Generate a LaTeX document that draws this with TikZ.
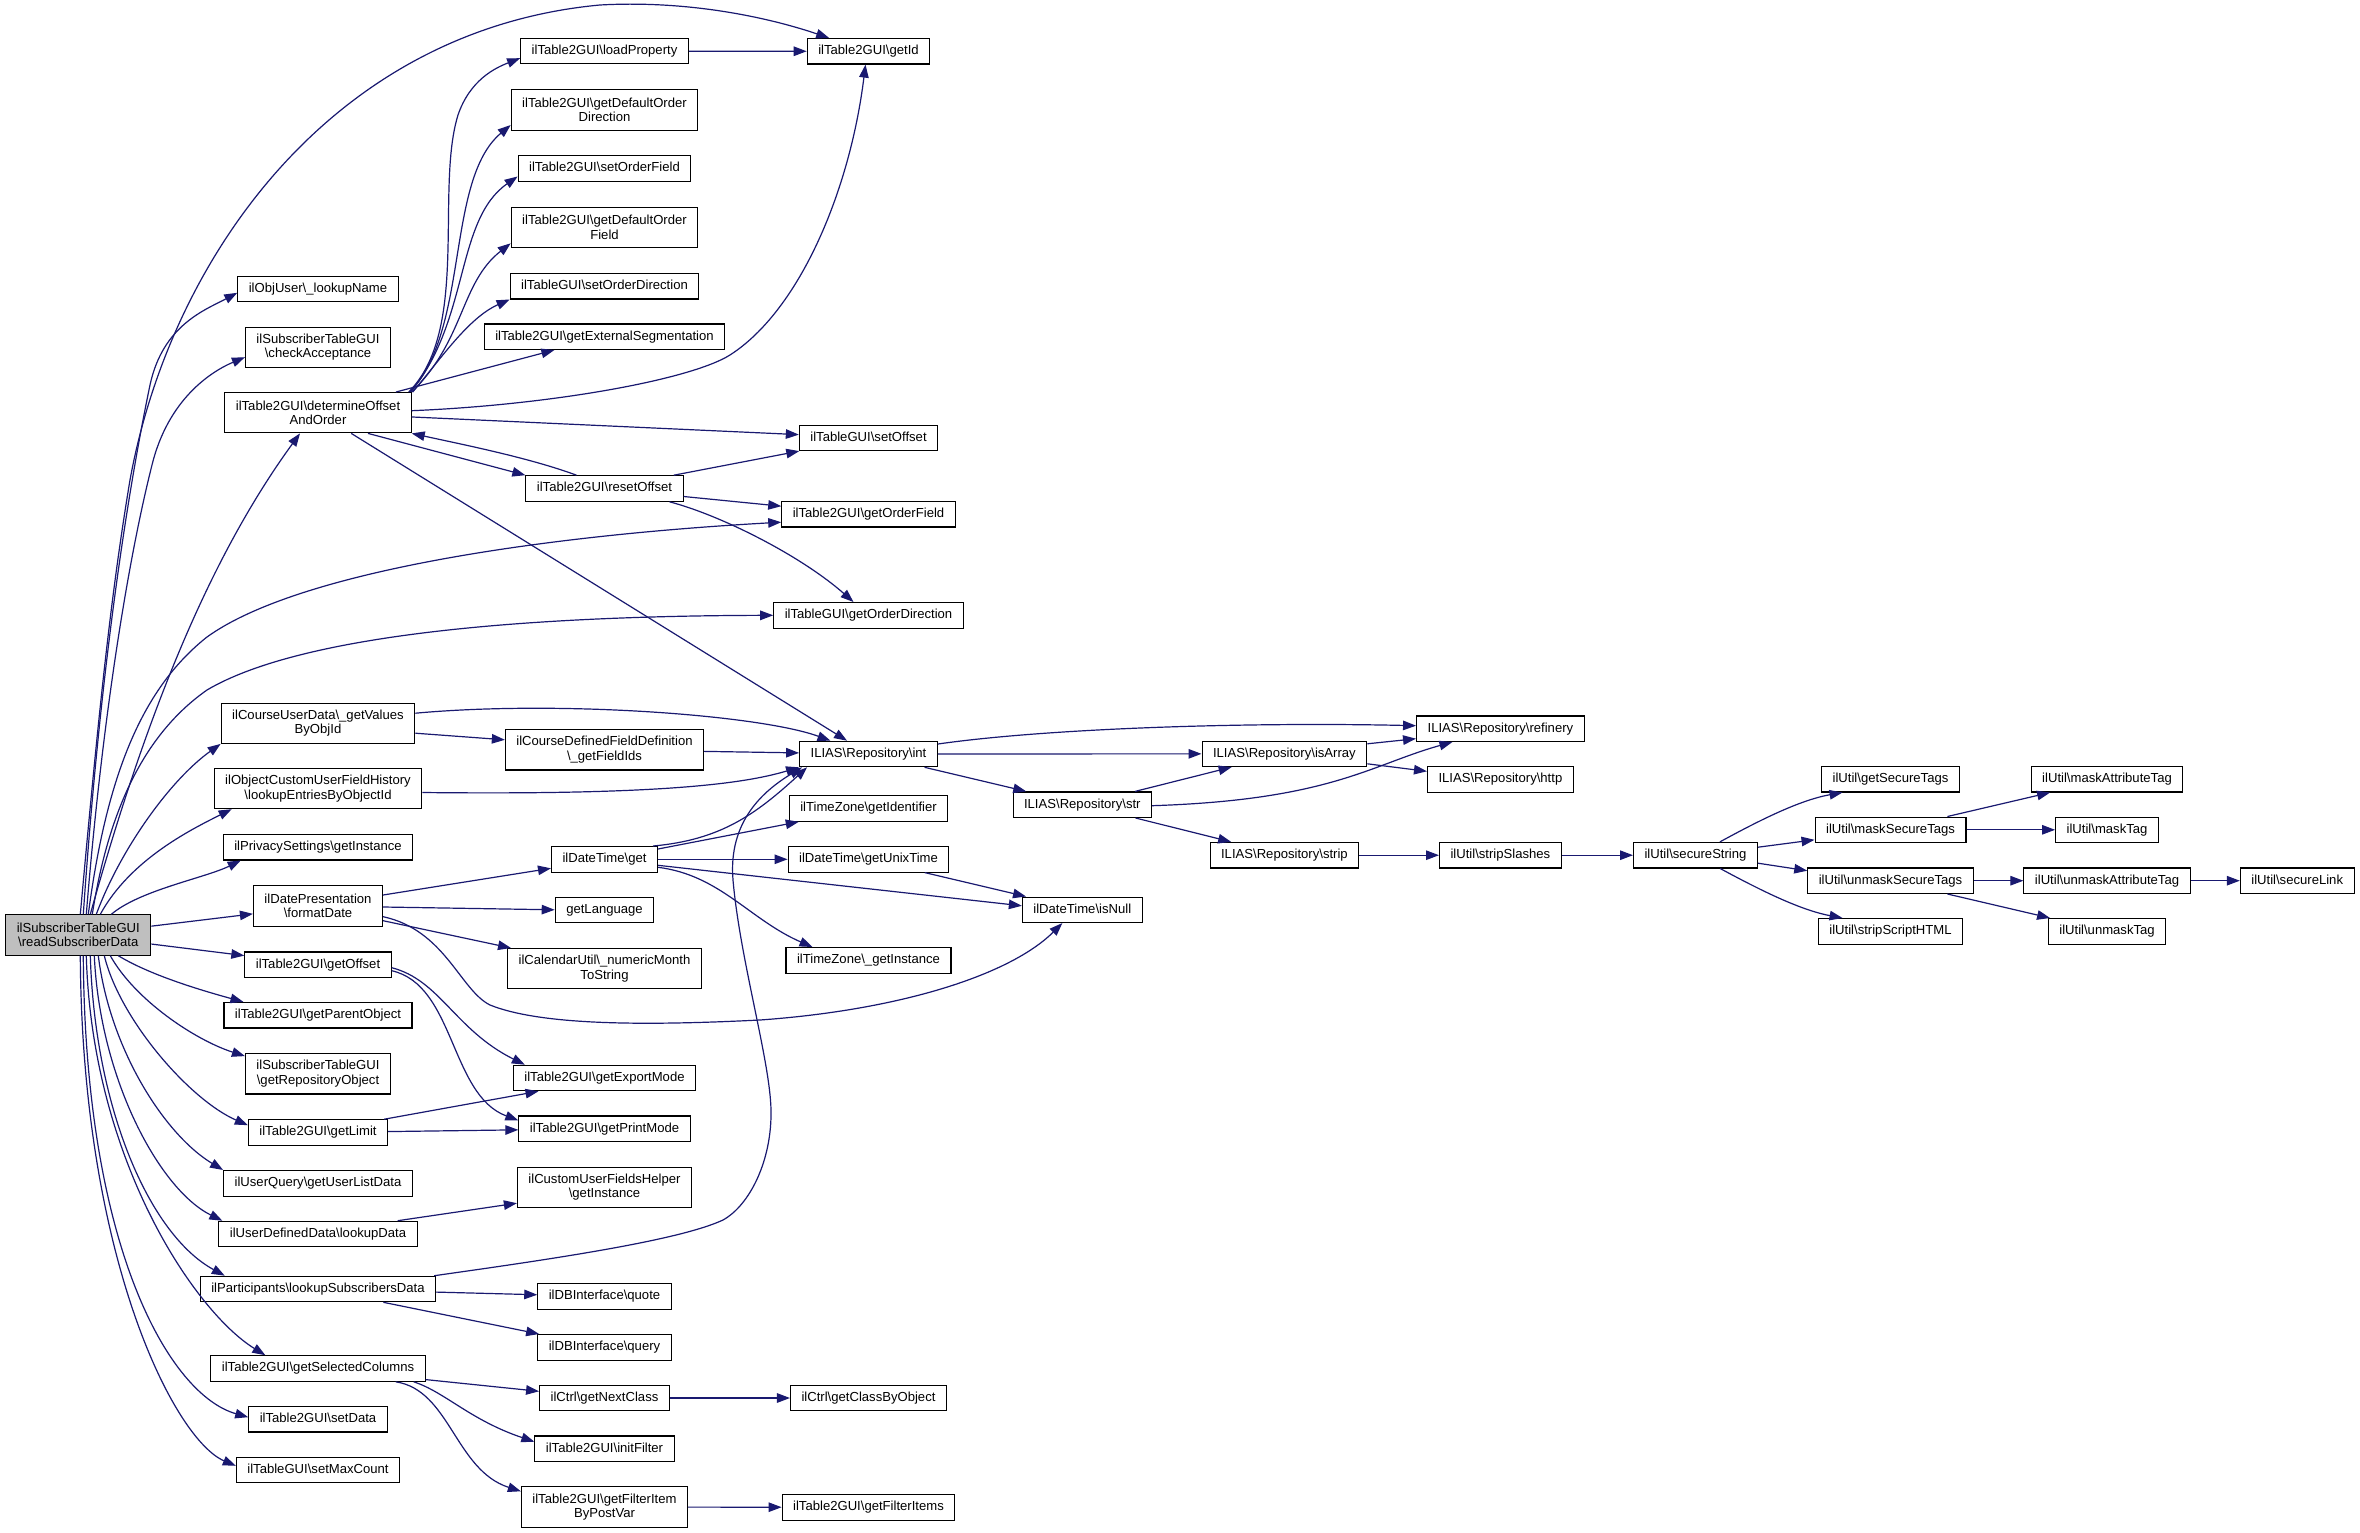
\documentclass[tikz,border=0pt]{standalone}
\usepackage{fontspec}
\setmainfont{Liberation Sans}
\usetikzlibrary{arrows.meta}

\definecolor{callblue}{HTML}{191970}
\definecolor{rootgrey}{HTML}{BFBFBF}
\newcommand{\bsl}{\textbackslash}

\begin{document}
\begin{tikzpicture}[
    x=1pt, y=-1pt,
    >={Triangle[length=13pt, width=9.5pt]},
    fnbox/.style={draw=black, line width=1.1pt, fill=white, inner xsep=11pt,
        inner ysep=0pt, font=\fontsize{13.1}{14.5}\selectfont},
    fn/.style={fnbox, minimum height=25.5pt, text height=9.6pt, text depth=2.9pt},
    fntwo/.style={fnbox, minimum height=40.3pt, align=center},
    fnroot/.style={fntwo, fill=rootgrey},
    call/.style={->, draw=callblue, line width=1.2pt}
]
    \path[use as bounding box, fill=white] (0,0) rectangle (2360,1533);

    % Caller
    \node[fnroot] (readSub) at (78.3,935) {ilSubscriberTableGUI\\\bsl readSubscriberData};

    % First level (called by the caller)
    \node[fn]    (lookupName)    at (318,288.8)  {ilObjUser\bsl\_lookupName};
    \node[fntwo] (checkAcc)      at (318,347.2)  {ilSubscriberTableGUI\\\bsl checkAcceptance};
    \node[fntwo] (detOffset)     at (318,412.7)  {ilTable2GUI\bsl determineOffset\\AndOrder};
    \node[fntwo] (getValues)     at (318,723.2)  {ilCourseUserData\bsl\_getValues\\ByObjId};
    \node[fntwo] (lookupEntries) at (318,788.5)  {ilObjectCustomUserFieldHistory\\\bsl lookupEntriesByObjectId};
    \node[fn]    (privInst)      at (318,847.2)  {ilPrivacySettings\bsl getInstance};
    \node[fntwo] (formatDate)    at (318,906)    {ilDatePresentation\\\bsl formatDate};
    \node[fn]    (getOffset)     at (318,964.7)  {ilTable2GUI\bsl getOffset};
    \node[fn]    (getParent)     at (318,1015.2) {ilTable2GUI\bsl getParentObject};
    \node[fntwo] (getRepo)       at (318,1073.8) {ilSubscriberTableGUI\\\bsl getRepositoryObject};
    \node[fn]    (getLimit)      at (318,1132.5) {ilTable2GUI\bsl getLimit};
    \node[fn]    (userList)      at (318,1183.3) {ilUserQuery\bsl getUserListData};
    \node[fn]    (lookupData)    at (318,1234)   {ilUserDefinedData\bsl lookupData};
    \node[fn]    (lookupSubs)    at (318,1289)   {ilParticipants\bsl lookupSubscribersData};
    \node[fn]    (selCols)       at (318,1368.5) {ilTable2GUI\bsl getSelectedColumns};
    \node[fn]    (setData)       at (318,1419.2) {ilTable2GUI\bsl setData};
    \node[fn]    (setMax)        at (318,1469.8) {ilTableGUI\bsl setMaxCount};

    % Second level
    \node[fn]    (loadProp)      at (604.5,51.2)   {ilTable2GUI\bsl loadProperty};
    \node[fntwo] (defOrderDir)   at (604.5,110)    {ilTable2GUI\bsl getDefaultOrder\\Direction};
    \node[fn]    (setOrderFld)   at (604.5,168.5)  {ilTable2GUI\bsl setOrderField};
    \node[fntwo] (defOrderFld)   at (604.5,227.3)  {ilTable2GUI\bsl getDefaultOrder\\Field};
    \node[fn]    (setOrderDir)   at (604.5,286.2)  {ilTableGUI\bsl setOrderDirection};
    \node[fn]    (extSeg)        at (604.5,336.7)  {ilTable2GUI\bsl getExternalSegmentation};
    \node[fn]    (resetOffset)   at (604.5,488.5)  {ilTable2GUI\bsl resetOffset};
    \node[fntwo] (fieldIds)      at (604.5,749.8)  {ilCourseDefinedFieldDefinition\\\bsl\_getFieldIds};
    \node[fn]    (dtGet)         at (604.5,859.3)  {ilDateTime\bsl get};
    \node[fn]    (getLang)       at (604.5,909.8)  {getLanguage};
    \node[fntwo] (monthStr)      at (604.5,968.7)  {ilCalendarUtil\bsl\_numericMonth\\ToString};
    \node[fn]    (exportMode)    at (604.5,1078)   {ilTable2GUI\bsl getExportMode};
    \node[fn]    (printMode)     at (604.5,1128.7) {ilTable2GUI\bsl getPrintMode};
    \node[fntwo] (fieldsHelper)  at (604.5,1187.2) {ilCustomUserFieldsHelper\\\bsl getInstance};
    \node[fn]    (dbQuote)       at (604.5,1296.5) {ilDBInterface\bsl quote};
    \node[fn]    (dbQuery)       at (604.5,1347.3) {ilDBInterface\bsl query};
    \node[fn]    (nextClass)     at (604.5,1398)   {ilCtrl\bsl getNextClass};
    \node[fn]    (initFilter)    at (604.5,1448.7) {ilTable2GUI\bsl initFilter};
    \node[fntwo] (filterItem)    at (604.5,1507)   {ilTable2GUI\bsl getFilterItem\\ByPostVar};

    % Third level
    \node[fn] (getId)       at (868.5,51.3)   {ilTable2GUI\bsl getId};
    \node[fn] (setOffset)   at (868.5,437.8)  {ilTableGUI\bsl setOffset};
    \node[fn] (getOrderFld) at (868.5,514.2)  {ilTable2GUI\bsl getOrderField};
    \node[fn] (getOrderDir) at (868.5,615.3)  {ilTableGUI\bsl getOrderDirection};
    \node[fn] (repoInt)     at (868.5,754)    {ILIAS\bsl Repository\bsl int};
    \node[fn] (tzIdent)     at (868.5,808.5)  {ilTimeZone\bsl getIdentifier};
    \node[fn] (unixTime)    at (868.5,859.3)  {ilDateTime\bsl getUnixTime};
    \node[fn] (tzInst)      at (868.5,960.3)  {ilTimeZone\bsl\_getInstance};
    \node[fn] (classByObj)  at (868.5,1398)   {ilCtrl\bsl getClassByObject};
    \node[fn] (filterItems) at (868.5,1507.3) {ilTable2GUI\bsl getFilterItems};

    % Deeper levels
    \node[fn] (repoStr)      at (1082.3,804.7) {ILIAS\bsl Repository\bsl str};
    \node[fn] (isNull)       at (1082.3,909.8) {ilDateTime\bsl isNull};
    \node[fn] (repoArray)    at (1284.4,753.8) {ILIAS\bsl Repository\bsl isArray};
    \node[fn] (repoStrip)    at (1284.4,855.2) {ILIAS\bsl Repository\bsl strip};
    \node[fn] (repoRefinery) at (1500.4,728.7) {ILIAS\bsl Repository\bsl refinery};
    \node[fn] (repoHttp)     at (1500.4,779.3) {ILIAS\bsl Repository\bsl http};
    \node[fn] (stripSlashes) at (1500.4,855.2) {ilUtil\bsl stripSlashes};
    \node[fn] (secureString) at (1695.5,855.2) {ilUtil\bsl secureString};
    \node[fn] (getSecTags)   at (1890.5,779.2) {ilUtil\bsl getSecureTags};
    \node[fn] (maskSecTags)  at (1890.5,829.8) {ilUtil\bsl maskSecureTags};
    \node[fn] (unmaskSecTags) at (1890.5,880.7) {ilUtil\bsl unmaskSecureTags};
    \node[fn] (stripHtml)    at (1890.5,931.3) {ilUtil\bsl stripScriptHTML};
    \node[fn] (maskAttr)     at (2107,779.2)   {ilUtil\bsl maskAttributeTag};
    \node[fn] (maskTag)      at (2107,829.8)   {ilUtil\bsl maskTag};
    \node[fn] (unmaskAttr)   at (2107,880.7)   {ilUtil\bsl unmaskAttributeTag};
    \node[fn] (unmaskTag)    at (2107,931.3)   {ilUtil\bsl unmaskTag};
    \node[fn] (secureLink)   at (2297.2,880.7) {ilUtil\bsl secureLink};

    % Calls from the caller (upwards)
    \draw[call] ([xshift=2pt]readSub.north) .. controls (98,720) and (110,600) .. (130,480)
        .. controls (170,260) and (330,30) .. (600,5) .. controls (690,0) and (770,18) .. (getId);
    \draw[call] ([xshift=5pt]readSub.north) .. controls (98,700) and (122,520) .. (150,385)
        .. controls (163,325) and (205,310) .. ([yshift=-4pt]lookupName.west);
    \draw[call] ([xshift=8pt]readSub.north) .. controls (102,720) and (128,560) .. (152,465)
        .. controls (168,400) and (210,372) .. ([yshift=-10pt]checkAcc.west);
    \draw[call] ([xshift=12pt]readSub.north) .. controls (150,700) and (215,550) .. ([xshift=-18pt]detOffset.south);
    \draw[call] ([xshift=10pt]readSub.north) .. controls (106,780) and (140,690) .. (207,637)
        .. controls (300,570) and (550,535) .. ([yshift=-8pt]getOrderFld.west);
    \draw[call] ([xshift=14pt]readSub.north) .. controls (110,800) and (150,730) .. (207,690)
        .. controls (300,635) and (520,616) .. (getOrderDir.west);
    \draw[call] ([xshift=18pt]readSub.north) .. controls (120,850) and (170,780) .. (getValues.south west);
    \draw[call] ([xshift=22pt]readSub.north) .. controls (130,860) and (190,830) .. ([xshift=18pt]lookupEntries.south west);
    \draw[call] ([xshift=33pt]readSub.north) .. controls (140,890) and (205,878) .. ([xshift=18pt]privInst.south west);

    % Calls from the caller (sideways and downwards)
    \draw[call] (readSub) -- (formatDate);
    \draw[call] (readSub) -- (getOffset);
    \draw[call] ([xshift=40pt]readSub.south) .. controls (150,975) and (200,990) .. ([xshift=20pt]getParent.north west);
    \draw[call] ([xshift=32pt]readSub.south) .. controls (135,1000) and (195,1040) .. ([yshift=-3pt]getRepo.north west);
    \draw[call] ([xshift=26pt]readSub.south) .. controls (120,1020) and (190,1100) .. ([yshift=-6pt]getLimit.north west);
    \draw[call] ([xshift=20pt]readSub.south) .. controls (110,1050) and (165,1135) .. (userList.north west);
    \draw[call] ([xshift=16pt]readSub.south) .. controls (100,1080) and (160,1190) .. ([xshift=4pt]lookupData.north west);
    \draw[call] ([xshift=12pt]readSub.south) .. controls (95,1110) and (150,1235) .. ([xshift=25pt]lookupSubs.north west);
    \draw[call] ([xshift=8pt]readSub.south) .. controls (92,1160) and (195,1312) .. ([xshift=55pt]selCols.north west);
    \draw[call] ([xshift=5pt]readSub.south) .. controls (85,1250) and (170,1395) .. ([yshift=2pt]setData.west);
    \draw[call] ([xshift=2pt]readSub.south) .. controls (82,1260) and (175,1440) .. ([yshift=4pt]setMax.west);

    % determineOffsetAndOrder
    \draw[call] ([xshift=-3pt]detOffset.north east) .. controls (470,330) and (435,190) .. (458,115)
        .. controls (470,80) and (495,68) .. ([yshift=-7pt]loadProp.west);
    \draw[call] ([xshift=-2pt]detOffset.north east) .. controls (470,330) and (445,180) .. ([yshift=-15pt]defOrderDir.west);
    \draw[call] ([xshift=-1pt]detOffset.north east) .. controls (470,320) and (455,220) .. ([yshift=-8pt]setOrderFld.west);
    \draw[call] (detOffset.north east) .. controls (465,340) and (460,283) .. ([yshift=-16pt]defOrderFld.west);
    \draw[call] ([xshift=1pt]detOffset.north east) .. controls (440,360) and (468,318) .. (setOrderDir.south west);
    \draw[call] (detOffset) -- (extSeg);
    \draw[call] ([yshift=2pt]detOffset.east) .. controls (550,405) and (690,380) .. (730,355)
        .. controls (800,310) and (850,190) .. ([xshift=-3pt]getId.south);
    \draw[call] (detOffset) -- (setOffset);
    \draw[call] ([xshift=50pt]detOffset.south) -- (resetOffset.north west);
    \draw[call] (detOffset) -- (repoInt);
    \draw[call] (loadProp) -- (getId);

    % resetOffset
    \draw[call] ([xshift=-28pt]resetOffset.north) .. controls (530,458) and (465,445) .. (detOffset.south east);
    \draw[call] (resetOffset) -- (setOffset);
    \draw[call] ([yshift=-8pt]resetOffset.east) -- ([yshift=8pt]getOrderFld.west);
    \draw[call] ([xshift=65pt]resetOffset.south) .. controls (720,515) and (800,555) .. ([xshift=-15pt]getOrderDir.north);

    % course and field data
    \draw[call] ([yshift=10pt]getValues.east) .. controls (560,700) and (760,715) .. ([xshift=-38pt]repoInt.north);
    \draw[call] ([yshift=-10pt]getValues.east) -- ([yshift=10pt]fieldIds.west);
    \draw[call] (fieldIds) -- (repoInt);
    \draw[call] ([yshift=-4pt]lookupEntries.east) .. controls (650,795) and (740,785) .. (repoInt.south west);

    % formatDate
    \draw[call] ([yshift=11pt]formatDate.east) -- ([yshift=-9pt]dtGet.west);
    \draw[call] ([yshift=-1pt]formatDate.east) -- (getLang.west);
    \draw[call] ([yshift=-14.7pt]formatDate.east) -- ([xshift=4pt]monthStr.north west);
    \draw[call] ([yshift=-10.7pt]formatDate.east) .. controls (445,930) and (460,990) .. (490,1005)
        .. controls (540,1025) and (640,1026) .. (760,1020) .. controls (900,1010) and (1010,975) .. ([xshift=-20pt]isNull.south);

    % ilDateTime\get
    \draw[call] ([xshift=-5pt]dtGet.north east) .. controls (720,840) and (755,815) .. ([xshift=8pt]repoInt.south west);
    \draw[call] ([yshift=-3pt]dtGet.north east) -- ([xshift=10pt]tzIdent.south west);
    \draw[call] (dtGet) -- (unixTime);
    \draw[call] ([yshift=-6pt]dtGet.east) -- ([yshift=4pt]isNull.west);
    \draw[call] ([yshift=-8pt]dtGet.east) .. controls (720,875) and (750,920) .. ([xshift=-56pt]tzInst.north);
    \draw[call] (unixTime) -- (isNull);

    % ILIAS\Repository
    \draw[call] ([yshift=10pt]repoInt.east) .. controls (1050,728) and (1250,722) .. ([yshift=3pt]repoRefinery.west);
    \draw[call] (repoInt) -- (repoArray);
    \draw[call] (repoInt) -- (repoStr);
    \draw[call] (repoStr) -- (repoArray);
    \draw[call] ([yshift=-1pt]repoStr.east) .. controls (1330,800) and (1370,765) .. ([xshift=-48pt]repoRefinery.south);
    \draw[call] (repoStr) -- (repoStrip);
    \draw[call] ([yshift=10pt]repoArray.east) -- ([yshift=-10pt]repoRefinery.west);
    \draw[call] ([yshift=-10pt]repoArray.east) -- ([yshift=8pt]repoHttp.west);
    \draw[call] (repoStrip) -- (stripSlashes);
    \draw[call] (stripSlashes) -- (secureString);

    % ilUtil
    \draw[call] (secureString) .. controls (1760,820) and (1800,800) .. ([xshift=-48pt]getSecTags.south);
    \draw[call] ([yshift=8pt]secureString.east) -- ([yshift=-10pt]maskSecTags.west);
    \draw[call] ([yshift=-8pt]secureString.east) -- ([yshift=10pt]unmaskSecTags.west);
    \draw[call] (secureString) .. controls (1760,890) and (1800,910) .. ([xshift=-48pt]stripHtml.north);
    \draw[call] (maskSecTags) -- (maskAttr);
    \draw[call] (maskSecTags) -- (maskTag);
    \draw[call] (unmaskSecTags) -- (unmaskAttr);
    \draw[call] (unmaskSecTags) -- (unmaskTag);
    \draw[call] (unmaskAttr) -- (secureLink);

    % table modes and user data
    \draw[call] ([yshift=-3pt]getOffset.east) .. controls (440,980) and (455,1030) .. ([xshift=12pt]exportMode.north west);
    \draw[call] ([yshift=-6pt]getOffset.east) .. controls (455,985) and (450,1095) .. ([yshift=-5pt]printMode.north west);
    \draw[call] ([xshift=-4pt]getLimit.north east) -- ([xshift=-66pt]exportMode.south);
    \draw[call] (getLimit) -- (printMode);
    \draw[call] ([xshift=-20pt]lookupData.north east) -- ([yshift=-16pt]fieldsHelper.west);

    % lookupSubscribersData
    \draw[call] ([xshift=-2pt]lookupSubs.north east) .. controls (560,1258) and (680,1240) .. (723,1220)
        .. controls (750,1205) and (772,1160) .. (771,1110) .. controls (770,1060) and (740,960) .. (733,880)
        .. controls (728,820) and (765,790) .. ([xshift=3pt]repoInt.south west);
    \draw[call] (lookupSubs) -- (dbQuote);
    \draw[call] (lookupSubs) -- (dbQuery);

    % getSelectedColumns
    \draw[call] (selCols) -- (nextClass);
    \draw[call] ([xshift=-12pt]selCols.south east) .. controls (445,1392) and (470,1420) .. ([yshift=7pt]initFilter.west);
    \draw[call] ([xshift=-30pt]selCols.south east) .. controls (450,1390) and (455,1470) .. ([yshift=-5pt]filterItem.north west);
    \draw[call] (nextClass) -- (classByObj);
    \draw[call] (filterItem) -- (filterItems);

\end{tikzpicture}
\end{document}
